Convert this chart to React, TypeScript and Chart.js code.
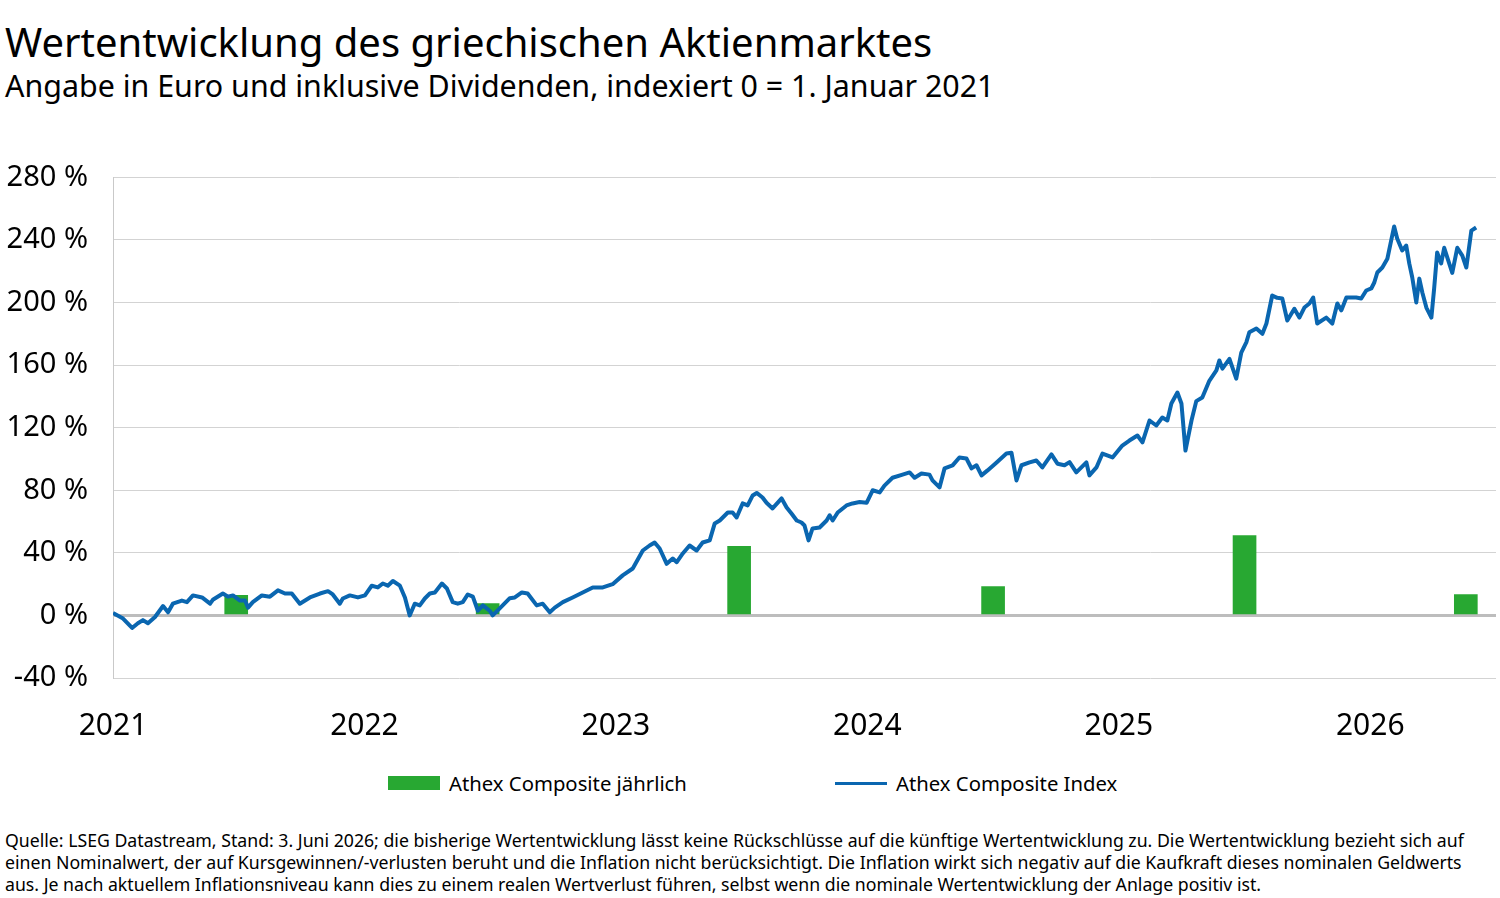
import React, { useEffect, useRef } from 'react';
import { Chart, registerables } from 'chart.js';

Chart.register(...registerables);

const FONT = '"Noto Sans", "DejaVu Sans", sans-serif';
const BLUE = '#0a66b0';
const GREEN = '#28a832';

// Athex Composite Index, cumulative performance in %, time as decimal year
const indexDates = [
  2021.000, 2021.040, 2021.076, 2021.099, 2021.119, 2021.139, 2021.167, 2021.199, 2021.219, 2021.238,
  2021.274, 2021.294, 2021.318, 2021.354, 2021.386, 2021.397, 2021.437, 2021.457, 2021.477, 2021.505,
  2021.525, 2021.537, 2021.556, 2021.592, 2021.624, 2021.656, 2021.684, 2021.711, 2021.743, 2021.783,
  2021.823, 2021.855, 2021.874, 2021.902, 2021.914, 2021.942, 2021.974,
  2022.002, 2022.029, 2022.053, 2022.073, 2022.093, 2022.113, 2022.141, 2022.161, 2022.180, 2022.200,
  2022.220, 2022.240, 2022.260, 2022.280, 2022.308, 2022.328, 2022.351, 2022.371, 2022.391, 2022.411,
  2022.431, 2022.451, 2022.471, 2022.498, 2022.510, 2022.538, 2022.578, 2022.598, 2022.626, 2022.649,
  2022.685, 2022.709, 2022.737, 2022.757, 2022.789, 2022.828, 2022.868, 2022.908, 2022.948, 2022.987,
  2023.027, 2023.067, 2023.107, 2023.134, 2023.154, 2023.174, 2023.202, 2023.226, 2023.242, 2023.266,
  2023.293, 2023.321, 2023.345, 2023.373, 2023.393, 2023.413, 2023.445, 2023.464, 2023.480, 2023.504,
  2023.524, 2023.544, 2023.560, 2023.583, 2023.599, 2023.623, 2023.659, 2023.679, 2023.699, 2023.719,
  2023.738, 2023.750, 2023.766, 2023.782, 2023.810, 2023.838, 2023.850, 2023.862, 2023.882, 2023.917,
  2023.941, 2023.969, 2023.997,
  2024.021, 2024.049, 2024.068, 2024.100, 2024.140, 2024.168, 2024.188, 2024.215, 2024.247, 2024.259,
  2024.287, 2024.307, 2024.339, 2024.366, 2024.394, 2024.414, 2024.434, 2024.454, 2024.478, 2024.514,
  2024.553, 2024.573, 2024.593, 2024.613, 2024.645, 2024.672, 2024.696, 2024.732, 2024.756, 2024.784,
  2024.804, 2024.831, 2024.871, 2024.883, 2024.911, 2024.935, 2024.975,
  2025.014, 2025.042, 2025.074, 2025.094, 2025.122, 2025.149, 2025.173, 2025.193, 2025.209, 2025.233,
  2025.249, 2025.265, 2025.289, 2025.308, 2025.332, 2025.360, 2025.388, 2025.400, 2025.412, 2025.440,
  2025.467, 2025.487, 2025.507, 2025.519, 2025.547, 2025.571, 2025.587, 2025.610, 2025.630, 2025.650,
  2025.670, 2025.698, 2025.718, 2025.738, 2025.758, 2025.773, 2025.789, 2025.825, 2025.849, 2025.869,
  2025.885, 2025.905, 2025.944, 2025.964, 2025.984,
  2026.004, 2026.016, 2026.028, 2026.048, 2026.068, 2026.083, 2026.095, 2026.107, 2026.127, 2026.143,
  2026.155, 2026.167, 2026.183, 2026.195, 2026.207, 2026.223, 2026.243, 2026.254, 2026.266, 2026.282,
  2026.294, 2026.326, 2026.346, 2026.366, 2026.382, 2026.402, 2026.421,
];

const indexValues = [
  1.5, -2, -8, -5, -3, -5, -1, 6, 2, 7.5,
  9.5, 8.5, 12.8, 11.5, 7.5, 10, 14, 12, 12.8, 9.5,
  9.5, 5, 8.5, 12.8, 12, 16, 14, 14, 7.5, 11.5,
  14, 15.5, 13.4, 7.5, 10.8, 12.8, 11.5,
  12.8, 19, 17.9, 20.4, 19, 22, 19, 11.5, 0, 7.5,
  6.4, 10.8, 14, 14.7, 20.4, 17.2, 8.5, 7.5, 8.5, 13.4,
  12, 3, 6.4, 3, 0, 4.5, 11, 11.5, 14.7, 14,
  6.4, 7.5, 2, 5, 8.5, 11.5, 14.7, 17.9, 17.9, 20,
  25.6, 30, 41.5, 44.7, 46.6, 42.8, 33, 36.4, 34, 39.6,
  44.7, 41.5, 46.6, 48, 58.8, 60.7, 65.8, 65.8, 62.6, 71.6,
  70.3, 76.7, 78.3, 75.4, 72, 68.4, 74.8, 69, 65, 60.7,
  59.4, 57.5, 48, 55.6, 56.2, 60.7, 64, 60.7, 65.8, 70.3,
  71.6, 72.5, 72,
  80, 78.6, 83, 88, 90, 91.4, 88, 90.7, 90, 86.3,
  81.8, 94, 95.9, 101, 100.3, 94, 96, 89.5, 92.7, 97.8,
  103.5, 104, 86.3, 96, 97.8, 99, 94.6, 103, 97, 96,
  98, 91.4, 97.8, 89.5, 94.6, 103.5, 101,
  108.6, 111.8, 115, 110.6, 124.6, 121.4, 126.5, 124.6, 135.5, 142.5,
  135.5, 105.4, 124.6, 137, 139.3, 150, 156.6, 163, 157.8, 164,
  151.4, 168, 174.5, 181, 183.4, 180, 186.6, 204.5, 203, 202.6,
  188.5, 196, 190.4, 196.8, 199.4, 203.2, 186.6, 190.4, 186.6, 199.4,
  195, 203.2, 203.2, 202.6, 207.7,
  209, 212.8, 219.2, 222.4, 228, 239.6, 248.6, 241, 233.3, 236.4,
  225, 216, 200, 215.3, 206.4, 196.8, 190.4, 209, 232, 225,
  235, 219, 235, 230, 222.4, 246, 248,
];

// Yearly performance of the Athex Composite in %
const annualDates = [2021.49, 2022.49, 2023.49, 2024.5, 2025.5, 2026.38];
const annualValues = [12.8, 7.5, 44.1, 18.5, 51.1, 13.4];

const yearTicks = [2021, 2022, 2023, 2024, 2025, 2026];

const TITLE = 'Wertentwicklung des griechischen Aktienmarktes';
const SUBTITLE = 'Angabe in Euro und inklusive Dividenden, indexiert 0 = 1. Januar 2021';
const LEGEND_BARS = 'Athex Composite jährlich';
const LEGEND_LINE = 'Athex Composite Index';
const NOTE_LINES = [
  'Quelle: LSEG Datastream, Stand: 3. Juni 2026; die bisherige Wertentwicklung lässt keine Rückschlüsse auf die künftige Wertentwicklung zu. Die Wertentwicklung bezieht sich auf',
  'einen Nominalwert, der auf Kursgewinnen/-verlusten beruht und die Inflation nicht berücksichtigt. Die Inflation wirkt sich negativ auf die Kaufkraft dieses nominalen Geldwerts',
  'aus. Je nach aktuellem Inflationsniveau kann dies zu einem realen Wertverlust führen, selbst wenn die nominale Wertentwicklung der Anlage positiv ist.',
];

export default function App() {
  const canvasRef = useRef<HTMLCanvasElement | null>(null);

  useEffect(() => {
    const canvas = canvasRef.current;
    if (!canvas) return;
    const linePoints = indexDates.map((x, i) => ({ x, y: indexValues[i] }));
    const barPoints = annualDates.map((x, i) => ({ x, y: annualValues[i] }));

    const chart = new Chart(canvas, {
      type: 'bar',
      data: {
        datasets: [
          {
            type: 'line',
            label: LEGEND_LINE,
            data: linePoints,
            borderColor: BLUE,
            backgroundColor: BLUE,
            borderWidth: 4,
            pointRadius: 0,
            tension: 0,
            borderJoinStyle: 'round',
            order: 0,
          } as any,
          {
            type: 'bar',
            label: LEGEND_BARS,
            data: barPoints,
            backgroundColor: GREEN,
            barThickness: 23,
            order: 1,
          } as any,
        ],
      },
      options: {
        responsive: false,
        animation: false,
        layout: { padding: { top: 27, right: 4, left: 0, bottom: 0 } },
        plugins: { legend: { display: false }, tooltip: { enabled: false } },
        scales: {
          x: {
            type: 'linear',
            min: 2021,
            max: 2026.5,
            offset: false,
            grid: { display: false, offset: false },
            border: { display: false },
            afterBuildTicks: (scale: any) => {
              scale.ticks = yearTicks.map((value) => ({ value }));
            },
            afterFit: (scale: any) => {
              scale.height = 72;
            },
            ticks: {
              autoSkip: false,
              maxRotation: 0,
              padding: 22,
              color: '#000',
              font: { family: FONT, size: 30 },
              callback: (v: any) => String(v),
            },
          },
          y: {
            type: 'linear',
            min: -40,
            max: 280,
            afterFit: (scale: any) => {
              scale.width = 113;
            },
            ticks: {
              stepSize: 20,
              padding: 25,
              color: '#000',
              font: { family: FONT, size: 29 },
              callback: (v: any) => (Number(v) % 40 === 0 ? `${v} %` : ''),
            },
            grid: {
              drawTicks: false,
              color: (ctx: any) => (ctx.tick && ctx.tick.value === 0 ? '#bdbdbd' : '#d3d3d3'),
              lineWidth: (ctx: any) => (ctx.tick && ctx.tick.value === 0 ? 3 : 1),
            },
            border: { display: true, color: '#c9c9c9', width: 1 },
          },
        },
      },
    });
    return () => chart.destroy();
  }, []);

  const abs = (style: React.CSSProperties): React.CSSProperties => ({
    position: 'absolute',
    fontFamily: FONT,
    color: '#000',
    whiteSpace: 'nowrap',
    margin: 0,
    ...style,
  });

  return (
    <div style={{ position: 'absolute', left: 0, top: 0, width: 1500, height: 898, background: '#fff', overflow: 'hidden' }}>
      <div style={abs({ left: 5, top: 21, fontSize: 40, lineHeight: '41px' })}>{TITLE}</div>
      <div style={abs({ left: 5, top: 71, fontSize: 30.4, lineHeight: '30px' })}>{SUBTITLE}</div>
      <canvas ref={canvasRef} width={1500} height={615} style={{ position: 'absolute', left: 0, top: 135, width: 1500, height: 615 }} />
      <div style={abs({ left: 388, top: 776, width: 52, height: 14, background: GREEN })} />
      <div style={abs({ left: 449, top: 771, fontSize: 20.3, lineHeight: '24px' })}>{LEGEND_BARS}</div>
      <div style={abs({ left: 835, top: 782, width: 52, height: 3, background: BLUE })} />
      <div style={abs({ left: 896, top: 771, fontSize: 20.3, lineHeight: '24px' })}>{LEGEND_LINE}</div>
      {NOTE_LINES.map((line, i) => (
        <div key={i} style={abs({ left: 5, top: 829 + i * 22, fontSize: 17.7, lineHeight: '22px' })}>{line}</div>
      ))}
    </div>
  );
}
